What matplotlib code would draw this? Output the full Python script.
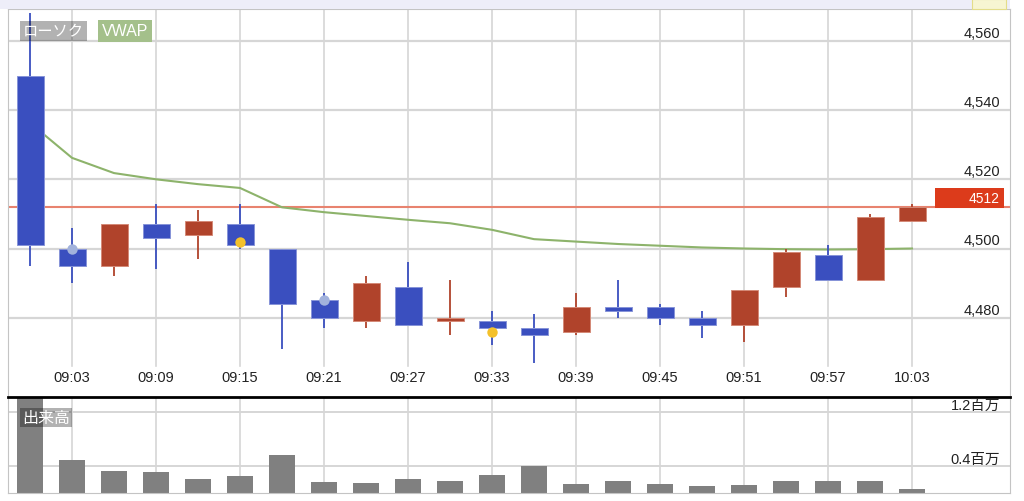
import matplotlib
matplotlib.use('Agg')
import matplotlib.pyplot as plt
from matplotlib.patches import Rectangle
from matplotlib.transforms import blended_transform_factory

plt.rcParams['font.family'] = ['Liberation Sans', 'Noto Sans CJK JP', 'DejaVu Sans']

# 3分足 (minutes after 09:00)
minutes = [0, 3, 6, 9, 12, 15, 18, 21, 24, 27, 30, 33, 36, 39, 42, 45, 48, 51, 54, 57, 60, 63]
opens = [4550, 4500, 4495, 4507, 4504, 4507, 4500, 4485, 4479, 4489, 4479,
         4479, 4477, 4476, 4483, 4483, 4480, 4478, 4489, 4498, 4491, 4508]
closes = [4501, 4495, 4507, 4503, 4508, 4501, 4484, 4480, 4490, 4478, 4480,
          4477, 4475, 4483, 4482, 4480, 4478, 4488, 4499, 4491, 4509, 4512]
highs = [4568, 4506, 4507, 4513, 4511, 4513, 4500, 4487, 4492, 4496, 4491,
         4482, 4481, 4487, 4491, 4484, 4482, 4488, 4500, 4501, 4510, 4513]
lows = [4495, 4490, 4492, 4494, 4497, 4500, 4471, 4477, 4477, 4478, 4475,
        4472, 4467, 4475, 4480, 4478, 4474, 4473, 4486, 4491, 4491, 4508]
vwap = [4536.3, 4526.2, 4521.8, 4520.0, 4518.6, 4517.5, 4511.9, 4510.5, 4509.4, 4508.3, 4507.3,
        4505.4, 4502.7, 4502.0, 4501.3, 4500.8, 4500.3, 4500.0, 4499.8, 4499.7, 4499.8, 4500.0]
volume = [1.55, 0.49, 0.33, 0.31, 0.21, 0.25, 0.56, 0.16, 0.15, 0.21, 0.18,
          0.27, 0.40, 0.13, 0.18, 0.13, 0.10, 0.12, 0.18, 0.18, 0.18, 0.06]  # 百万

blue_marks = [(3, 4500), (21, 4485)]
yellow_marks = [(15, 4502), (33, 4476)]

last_price = 4512
price_ticks = [4480, 4500, 4520, 4540, 4560]
price_labels = ['4,480', '4,500', '4,520', '4,540', '4,560']
time_ticks = [3, 9, 15, 21, 27, 33, 39, 45, 51, 57, 63]
time_labels = ['09:03', '09:09', '09:15', '09:21', '09:27', '09:33',
               '09:39', '09:45', '09:51', '09:57', '10:03']
vol_ticks = [0.4, 1.2]
vol_labels = ['0.4百万', '1.2百万']

UP = '#b0432b'
DOWN = '#3a4fbf'
GRID = '#d6d6d6'
FRAME = '#c4c4c4'

fig = plt.figure(figsize=(10.24, 5.02), dpi=100)

# header strip
fig.patches.append(Rectangle((0, 1 - 10 / 502), 1010 / 1024, 10 / 502, transform=fig.transFigure,
                             facecolor='#eeeef9', edgecolor='none'))
fig.patches.append(Rectangle((972 / 1024, 1 - 10 / 502), 34 / 1024, 10 / 502, transform=fig.transFigure,
                             facecolor='#f7f5d2', edgecolor='#e4dd8a', linewidth=0.8))

ax = fig.add_axes([8 / 1024, 1 - 396 / 502, 1002 / 1024, 386 / 502])
axv = fig.add_axes([8 / 1024, 1 - 494 / 502, 1002 / 1024, 96 / 502])

xmin, xmax = -22 / 14, 980 / 14
ymin, ymax = 4500 - 146.5 / 3.46, 4500 + 239.5 / 3.46
grid_cut = (396 - 367) / 386

# ---- price panel ----
ax.set_xlim(xmin, xmax)
ax.set_ylim(ymin, ymax)
for p in price_ticks:
    ax.axhline(p, color=GRID, lw=1.6, zorder=0)
for t in time_ticks:
    ax.axvline(t, ymin=grid_cut, ymax=1, color=GRID, lw=1.2, zorder=0)

ax.axhline(last_price, color='#e8836f', lw=1.5, zorder=1)
ax.plot(minutes, vwap, color='#8db36b', lw=1.5, zorder=1)

colors = [UP if c >= o else DOWN for o, c in zip(opens, closes)]
edges = ['#d48a78' if c >= o else '#8794d8' for o, c in zip(opens, closes)]
ax.vlines(minutes, lows, highs, colors=colors, lw=1.3, zorder=2)
ax.bar(minutes, [c - o for o, c in zip(opens, closes)], bottom=opens, width=27 / 14,
       color=colors, edgecolor=edges, linewidth=0.7, zorder=3)

ax.plot([m[0] for m in blue_marks], [m[1] for m in blue_marks], 'o', ms=7.5,
        color='#a2b2dc', mec='none', zorder=4)
ax.plot([m[0] for m in yellow_marks], [m[1] for m in yellow_marks], 'o', ms=7.5,
        color='#f4c12b', mec='none', zorder=4)

for p, lab in zip(price_ticks, price_labels):
    ax.annotate(lab, xy=(0.99, p), xycoords=('axes fraction', 'data'), xytext=(0, 3),
                textcoords='offset points', ha='right', va='baseline', fontsize=10.5, color='#222222')

xt = ax.get_xaxis_transform()
for t, lab in zip(time_ticks, time_labels):
    ax.text(t, (396 - 378) / 386, lab, transform=xt, ha='center', va='center',
            fontsize=10.5, color='#222222')

# last price tag
bt = blended_transform_factory(ax.transAxes, ax.transData)
ax.add_patch(Rectangle(((935 - 8) / 1002, 4511.7), 69 / 1002, 5.8, transform=bt,
                       facecolor='#dc3b1b', edgecolor='none', zorder=5))
ax.text(0.99, 4514.6, str(last_price), transform=bt, ha='right', va='center',
        fontsize=10, color='white', zorder=6)

# legend tags
tag_y = 4560 + (42 - 32) / 3.46
ax.text(15 / 1002, tag_y, 'ローソク', ha='left', va='center', fontsize=11,
        color='white', transform=bt,
        bbox=dict(boxstyle='square,pad=0.2', facecolor=(0, 0, 0, 0.3), edgecolor='none'), zorder=6)
ax.text(94 / 1002, tag_y, 'VWAP', ha='left', va='center', fontsize=11.5,
        color='white', transform=bt,
        bbox=dict(boxstyle='square,pad=0.22', facecolor='#a4c08b', edgecolor='none'), zorder=6)

ax.set_xticks([])
ax.set_yticks([])
for side in ['top', 'left', 'right']:
    ax.spines[side].set_color(FRAME)
ax.spines['bottom'].set_visible(False)

# ---- volume panel ----
axv.set_xlim(xmin, xmax)
axv.set_ylim(0, 96 / 67.5)
for v in vol_ticks:
    axv.axhline(v, color=GRID, lw=1.4, zorder=0)
for t in time_ticks:
    axv.axvline(t, color=GRID, lw=1.2, zorder=0)
axv.bar(minutes, volume, width=26 / 14, color='#808080', zorder=2)

for v, lab in zip(vol_ticks, vol_labels):
    axv.annotate(lab, xy=(0.99, v), xycoords=('axes fraction', 'data'), xytext=(0, 2),
                 textcoords='offset points', ha='right', va='baseline', fontsize=10.5, color='#222222')

axv.text(14 / 1002, (494 - 418.5) / 67.5, '出来高',
         transform=blended_transform_factory(axv.transAxes, axv.transData),
         ha='left', va='center', fontsize=11.5, color='white',
         bbox=dict(boxstyle='square,pad=0.15', facecolor=(0, 0, 0, 0.3), edgecolor='none'), zorder=6)

axv.set_xticks([])
axv.set_yticks([])
for side in ['bottom', 'left', 'right']:
    axv.spines[side].set_color(FRAME)
axv.spines['top'].set_color('black')
axv.spines['top'].set_linewidth(2)

fig.savefig('out.png', dpi=100)
